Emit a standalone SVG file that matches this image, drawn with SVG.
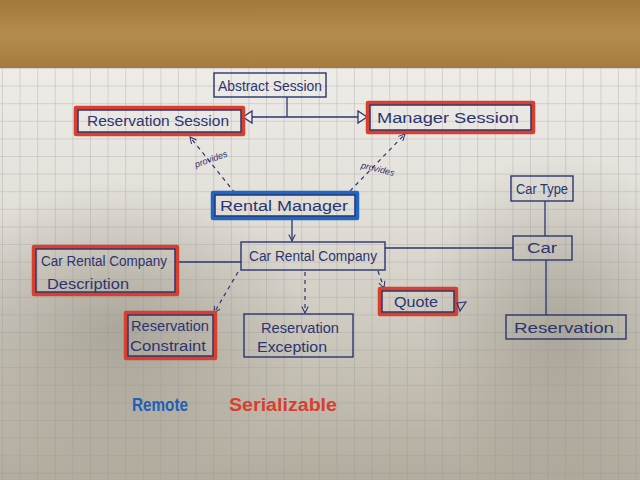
<svg xmlns="http://www.w3.org/2000/svg" width="640" height="480" viewBox="0 0 640 480">
<defs>
<linearGradient id="wood" x1="0" y1="0" x2="0" y2="1">
<stop offset="0" stop-color="#a3793a"/>
<stop offset="0.5" stop-color="#b48c4e"/>
<stop offset="1" stop-color="#a57a3b"/>
</linearGradient>
<linearGradient id="paper" x1="0" y1="0" x2="0" y2="1">
<stop offset="0" stop-color="#eeece7"/>
<stop offset="0.35" stop-color="#e2dfd8"/>
<stop offset="0.7" stop-color="#c9c4b8"/>
<stop offset="1" stop-color="#b2ac9e"/>
</linearGradient>
<radialGradient id="shadowL" cx="0.5" cy="0.5" r="0.5">
<stop offset="0" stop-color="#8f8a7c" stop-opacity="0.55"/>
<stop offset="1" stop-color="#8f8a7c" stop-opacity="0"/>
</radialGradient>
<pattern id="grid" width="17.6" height="17.6" patternUnits="userSpaceOnUse" x="2" y="68">
<path d="M0 0H17.6M0 0V17.6" fill="none" stroke="#8e8e96" stroke-width="1" stroke-opacity="0.55"/>
</pattern>
<marker id="arr" viewBox="0 0 10 10" refX="9" refY="5" markerWidth="8" markerHeight="8" orient="auto" markerUnits="userSpaceOnUse">
<path d="M1 1L9 5L1 9" fill="none" stroke="#2b3570" stroke-width="1.3"/>
</marker>
<style>
.ink{fill:none;stroke:#2b3570;stroke-width:1.4}
.red{fill:none;stroke:#d8402e;stroke-width:4.5;stroke-linejoin:round}
.blue{fill:none;stroke:#1e66c0;stroke-width:4.5;stroke-linejoin:round}
.lbl{font-family:"Liberation Sans","DejaVu Sans",sans-serif;font-size:14px;fill:#2b3570;text-anchor:middle}
.small{font-family:"Liberation Sans","DejaVu Sans",sans-serif;font-size:9px;font-style:italic;fill:#2b3570;text-anchor:middle}
.line{fill:none;stroke:#2b3570;stroke-width:1.3}
.dash{fill:none;stroke:#2b3570;stroke-width:1.2;stroke-dasharray:4 4}
.legend{font-family:"Liberation Sans","DejaVu Sans",sans-serif;font-size:18px;font-weight:bold;text-anchor:middle}
</style>
</defs>
<g id="background">
<rect x="0" y="0" width="640" height="70" fill="url(#wood)"/>
<rect x="0" y="68" width="640" height="412" fill="url(#paper)"/>
<ellipse cx="120" cy="330" rx="190" ry="150" fill="url(#shadowL)"/>
<ellipse cx="560" cy="330" rx="140" ry="180" fill="url(#shadowL)"/>
<rect x="0" y="68" width="640" height="412" fill="url(#grid)"/>
</g>
<g id="connectors">
<path class="line" d="M287 97V117M252 117H358"/>
<polygon points="243,117 252,111 252,123" fill="#f0eee8" stroke="#2b3570" stroke-width="1.3"/>
<polygon points="367,117 358,111 358,123" fill="#f0eee8" stroke="#2b3570" stroke-width="1.3"/>
<path class="dash" d="M235 193L190 137" marker-end="url(#arr)"/>
<text class="small" x="212" y="162" transform="rotate(-20 212 162)">provides</text>
<path class="dash" d="M350 191L405 134" marker-end="url(#arr)"/>
<text class="small" x="377" y="172" transform="rotate(14 377 172)">provides</text>
<path class="line" d="M292 218V241" marker-end="url(#arr)"/>
<path class="line" d="M177 262H241"/>
<path class="line" d="M385 248H513"/>
<path class="line" d="M545 201V236"/>
<path class="line" d="M546 260V315"/>
<path class="dash" d="M238 272L214 313" marker-end="url(#arr)"/>
<path class="dash" d="M305 272V313" marker-end="url(#arr)"/>
<path class="dash" d="M378 271L384 288" marker-end="url(#arr)"/>
</g>
<g id="abstract-session">
<rect class="ink" x="214" y="73" width="112" height="24"/>
<text class="lbl" x="270" y="91" textLength="104" lengthAdjust="spacingAndGlyphs">Abstract Session</text>
</g>
<g id="reservation-session">
<rect class="red" x="76" y="108" width="167" height="26"/>
<rect class="ink" x="78" y="110" width="163" height="22"/>
<text class="lbl" x="158" y="126" textLength="142" lengthAdjust="spacingAndGlyphs">Reservation Session</text>
</g>
<g id="manager-session">
<rect class="red" x="368" y="103" width="165" height="29"/>
<rect class="ink" x="370" y="105" width="161" height="25"/>
<text class="lbl" x="448" y="123" textLength="142" lengthAdjust="spacingAndGlyphs">Manager Session</text>
</g>
<g id="rental-manager">
<rect class="blue" x="213" y="193" width="144" height="25"/>
<rect class="ink" x="215" y="195" width="140" height="21"/>
<text class="lbl" x="284" y="211" textLength="128" lengthAdjust="spacingAndGlyphs">Rental Manager</text>
</g>
<g id="car-rental-company">
<rect class="ink" x="241" y="242" width="144" height="28"/>
<text class="lbl" x="313" y="261" textLength="128" lengthAdjust="spacingAndGlyphs">Car Rental Company</text>
</g>
<g id="car-rental-company-description">
<rect class="red" x="34" y="247" width="143" height="47"/>
<rect class="ink" x="36" y="249" width="139" height="43"/>
<text class="lbl" x="104" y="266" textLength="126" lengthAdjust="spacingAndGlyphs">Car Rental Company</text>
<text class="lbl" x="88" y="289" textLength="82" lengthAdjust="spacingAndGlyphs">Description</text>
</g>
<g id="reservation-constraint">
<rect class="red" x="126" y="313" width="89" height="45"/>
<rect class="ink" x="128" y="315" width="85" height="41"/>
<text class="lbl" x="170" y="331" textLength="78" lengthAdjust="spacingAndGlyphs">Reservation</text>
<text class="lbl" x="168" y="351" textLength="76" lengthAdjust="spacingAndGlyphs">Constraint</text>
</g>
<g id="reservation-exception">
<rect class="ink" x="244" y="314" width="109" height="43"/>
<text class="lbl" x="300" y="333" textLength="78" lengthAdjust="spacingAndGlyphs">Reservation</text>
<text class="lbl" x="292" y="352" textLength="70" lengthAdjust="spacingAndGlyphs">Exception</text>
</g>
<g id="quote">
<rect class="red" x="380" y="289" width="76" height="25"/>
<rect class="ink" x="382" y="291" width="72" height="21"/>
<text class="lbl" x="416" y="307" textLength="44" lengthAdjust="spacingAndGlyphs">Quote</text>
<polygon points="457,303 466,302 460,311" fill="none" stroke="#2b3570" stroke-width="1.2"/>
</g>
<g id="car-type">
<rect class="ink" x="511" y="176" width="62" height="25"/>
<text class="lbl" x="542" y="194" textLength="52" lengthAdjust="spacingAndGlyphs">Car Type</text>
</g>
<g id="car">
<rect class="ink" x="513" y="236" width="59" height="24"/>
<text class="lbl" x="542" y="253" textLength="30" lengthAdjust="spacingAndGlyphs">Car</text>
</g>
<g id="reservation">
<rect class="ink" x="506" y="315" width="120" height="24"/>
<text class="lbl" x="564" y="333" textLength="100" lengthAdjust="spacingAndGlyphs">Reservation</text>
</g>
<g id="legend">
<text class="legend" x="160" y="411" fill="#1e5fb8" textLength="56" lengthAdjust="spacingAndGlyphs">Remote</text>
<text class="legend" x="283" y="411" fill="#d8402e" textLength="108" lengthAdjust="spacingAndGlyphs">Serializable</text>
</g>
</svg>
